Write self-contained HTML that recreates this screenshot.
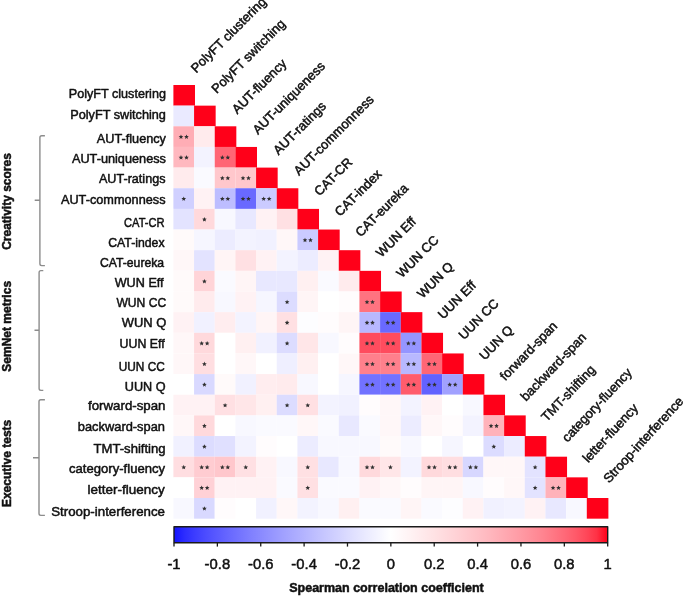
<!DOCTYPE html><html><head><meta charset="utf-8"><style>html,body{margin:0;padding:0;background:#fff}svg{display:block;filter:blur(0.35px)}</style></head><body>
<svg width="685" height="596" viewBox="0 0 685 596" font-family="'Liberation Sans', sans-serif" stroke-linejoin="round">
<style>text{stroke:#111;stroke-width:0.5px}</style>
<defs><linearGradient id="cb" x1="0" x2="1" y1="0" y2="0">
<stop offset="0.0000" stop-color="#1414ff"/>
<stop offset="0.0250" stop-color="#2d2dff"/>
<stop offset="0.0500" stop-color="#3e3eff"/>
<stop offset="0.0750" stop-color="#4d4dff"/>
<stop offset="0.1000" stop-color="#5a5aff"/>
<stop offset="0.1250" stop-color="#6767ff"/>
<stop offset="0.1500" stop-color="#7373ff"/>
<stop offset="0.1750" stop-color="#7f7fff"/>
<stop offset="0.2000" stop-color="#8a8aff"/>
<stop offset="0.2250" stop-color="#9595ff"/>
<stop offset="0.2500" stop-color="#a0a0ff"/>
<stop offset="0.2750" stop-color="#aaaaff"/>
<stop offset="0.3000" stop-color="#b4b4ff"/>
<stop offset="0.3250" stop-color="#bebeff"/>
<stop offset="0.3500" stop-color="#c8c8ff"/>
<stop offset="0.3750" stop-color="#d1d1ff"/>
<stop offset="0.4000" stop-color="#dbdbff"/>
<stop offset="0.4250" stop-color="#e4e4ff"/>
<stop offset="0.4500" stop-color="#ededff"/>
<stop offset="0.4750" stop-color="#f6f6ff"/>
<stop offset="0.5000" stop-color="#ffffff"/>
<stop offset="0.5250" stop-color="#fff8f9"/>
<stop offset="0.5500" stop-color="#fff1f2"/>
<stop offset="0.5750" stop-color="#ffe9eb"/>
<stop offset="0.6000" stop-color="#ffe2e4"/>
<stop offset="0.6250" stop-color="#ffdadd"/>
<stop offset="0.6500" stop-color="#ffd2d6"/>
<stop offset="0.6750" stop-color="#ffc9ce"/>
<stop offset="0.7000" stop-color="#ffc1c7"/>
<stop offset="0.7250" stop-color="#ffb8bf"/>
<stop offset="0.7500" stop-color="#ffaeb6"/>
<stop offset="0.7750" stop-color="#ffa4ad"/>
<stop offset="0.8000" stop-color="#ff9aa4"/>
<stop offset="0.8250" stop-color="#ff8f9a"/>
<stop offset="0.8500" stop-color="#ff8490"/>
<stop offset="0.8750" stop-color="#ff7784"/>
<stop offset="0.9000" stop-color="#ff6978"/>
<stop offset="0.9250" stop-color="#ff5a6a"/>
<stop offset="0.9500" stop-color="#ff485a"/>
<stop offset="0.9750" stop-color="#ff3145"/>
<stop offset="1.0000" stop-color="#ff0019"/>
</linearGradient>
</defs>
<rect x="173.40" y="85.00" width="21.59" height="20.67" fill="#ff0019"/>
<rect x="173.40" y="105.65" width="20.69" height="20.67" fill="#eaeaff"/>
<rect x="194.07" y="105.65" width="21.59" height="20.67" fill="#ff0019"/>
<rect x="173.40" y="126.30" width="20.69" height="20.67" fill="#ffadb5"/>
<rect x="194.07" y="126.30" width="20.69" height="20.67" fill="#ffebed"/>
<rect x="214.74" y="126.30" width="21.59" height="20.67" fill="#ff0019"/>
<rect x="173.40" y="146.95" width="20.69" height="20.67" fill="#ffb8bf"/>
<rect x="194.07" y="146.95" width="20.69" height="20.67" fill="#f3f3ff"/>
<rect x="214.74" y="146.95" width="20.69" height="20.67" fill="#ff6675"/>
<rect x="235.41" y="146.95" width="21.59" height="20.67" fill="#ff0019"/>
<rect x="173.40" y="167.60" width="20.69" height="20.67" fill="#ffebed"/>
<rect x="194.07" y="167.60" width="20.69" height="20.67" fill="#fafaff"/>
<rect x="214.74" y="167.60" width="20.69" height="20.67" fill="#ffc7cc"/>
<rect x="235.41" y="167.60" width="20.69" height="20.67" fill="#ffc7cc"/>
<rect x="256.08" y="167.60" width="21.59" height="20.67" fill="#ff0019"/>
<rect x="173.40" y="188.25" width="20.69" height="20.67" fill="#d0d0ff"/>
<rect x="194.07" y="188.25" width="20.69" height="20.67" fill="#fff2f4"/>
<rect x="214.74" y="188.25" width="20.69" height="20.67" fill="#bdbdff"/>
<rect x="235.41" y="188.25" width="20.69" height="20.67" fill="#6969ff"/>
<rect x="256.08" y="188.25" width="20.69" height="20.67" fill="#cbcbff"/>
<rect x="276.75" y="188.25" width="21.59" height="20.67" fill="#ff0019"/>
<rect x="173.40" y="208.90" width="20.69" height="20.67" fill="#e3e3ff"/>
<rect x="194.07" y="208.90" width="20.69" height="20.67" fill="#ffd9dc"/>
<rect x="214.74" y="208.90" width="20.69" height="20.67" fill="#f8f8ff"/>
<rect x="235.41" y="208.90" width="20.69" height="20.67" fill="#e8e8ff"/>
<rect x="256.08" y="208.90" width="20.69" height="20.67" fill="#fff2f4"/>
<rect x="276.75" y="208.90" width="20.69" height="20.67" fill="#ffe0e3"/>
<rect x="297.42" y="208.90" width="21.59" height="20.67" fill="#ff0019"/>
<rect x="173.40" y="229.55" width="20.69" height="20.67" fill="#fffafa"/>
<rect x="194.07" y="229.55" width="20.69" height="20.67" fill="#f6f6ff"/>
<rect x="214.74" y="229.55" width="20.69" height="20.67" fill="#ececff"/>
<rect x="235.41" y="229.55" width="20.69" height="20.67" fill="#f3f3ff"/>
<rect x="256.08" y="229.55" width="20.69" height="20.67" fill="#f1f1ff"/>
<rect x="276.75" y="229.55" width="20.69" height="20.67" fill="#fff7f8"/>
<rect x="297.42" y="229.55" width="20.69" height="20.67" fill="#cbcbff"/>
<rect x="318.09" y="229.55" width="21.59" height="20.67" fill="#ff0019"/>
<rect x="173.40" y="250.20" width="20.69" height="20.67" fill="#fff7f8"/>
<rect x="194.07" y="250.20" width="20.69" height="20.67" fill="#e3e3ff"/>
<rect x="214.74" y="250.20" width="20.69" height="20.67" fill="#fff5f6"/>
<rect x="235.41" y="250.20" width="20.69" height="20.67" fill="#ffe0e3"/>
<rect x="256.08" y="250.20" width="20.69" height="20.67" fill="#fff2f4"/>
<rect x="276.75" y="250.20" width="20.69" height="20.67" fill="#f3f3ff"/>
<rect x="297.42" y="250.20" width="20.69" height="20.67" fill="#ececff"/>
<rect x="318.09" y="250.20" width="20.69" height="20.67" fill="#fff2f4"/>
<rect x="338.76" y="250.20" width="21.59" height="20.67" fill="#ff0019"/>
<rect x="173.40" y="270.85" width="20.69" height="20.67" fill="#fffafa"/>
<rect x="194.07" y="270.85" width="20.69" height="20.67" fill="#ffd4d8"/>
<rect x="214.74" y="270.85" width="20.69" height="20.67" fill="#fafaff"/>
<rect x="235.41" y="270.85" width="20.69" height="20.67" fill="#fff5f6"/>
<rect x="256.08" y="270.85" width="20.69" height="20.67" fill="#e8e8ff"/>
<rect x="276.75" y="270.85" width="20.69" height="20.67" fill="#e8e8ff"/>
<rect x="297.42" y="270.85" width="20.69" height="20.67" fill="#fff0f1"/>
<rect x="318.09" y="270.85" width="20.69" height="20.67" fill="#fafaff"/>
<rect x="338.76" y="270.85" width="20.69" height="20.67" fill="#ffebed"/>
<rect x="359.43" y="270.85" width="21.59" height="20.67" fill="#ff0019"/>
<rect x="173.40" y="291.50" width="20.69" height="20.67" fill="#fffafa"/>
<rect x="194.07" y="291.50" width="20.69" height="20.67" fill="#ffebed"/>
<rect x="214.74" y="291.50" width="20.69" height="20.67" fill="#f8f8ff"/>
<rect x="235.41" y="291.50" width="20.69" height="20.67" fill="#fff2f4"/>
<rect x="256.08" y="291.50" width="20.69" height="20.67" fill="#f6f6ff"/>
<rect x="276.75" y="291.50" width="20.69" height="20.67" fill="#dcdcff"/>
<rect x="297.42" y="291.50" width="20.69" height="20.67" fill="#fff5f6"/>
<rect x="318.09" y="291.50" width="20.69" height="20.67" fill="#ffffff"/>
<rect x="338.76" y="291.50" width="20.69" height="20.67" fill="#fffcfd"/>
<rect x="359.43" y="291.50" width="20.69" height="20.67" fill="#ff7380"/>
<rect x="380.10" y="291.50" width="21.59" height="20.67" fill="#ff0019"/>
<rect x="173.40" y="312.15" width="20.69" height="20.67" fill="#fff2f4"/>
<rect x="194.07" y="312.15" width="20.69" height="20.67" fill="#f1f1ff"/>
<rect x="214.74" y="312.15" width="20.69" height="20.67" fill="#ffedef"/>
<rect x="235.41" y="312.15" width="20.69" height="20.67" fill="#f3f3ff"/>
<rect x="256.08" y="312.15" width="20.69" height="20.67" fill="#fff5f6"/>
<rect x="276.75" y="312.15" width="20.69" height="20.67" fill="#ffe0e3"/>
<rect x="297.42" y="312.15" width="20.69" height="20.67" fill="#fdfdff"/>
<rect x="318.09" y="312.15" width="20.69" height="20.67" fill="#fffcfd"/>
<rect x="338.76" y="312.15" width="20.69" height="20.67" fill="#fff5f6"/>
<rect x="359.43" y="312.15" width="20.69" height="20.67" fill="#b8b8ff"/>
<rect x="380.10" y="312.15" width="20.69" height="20.67" fill="#6969ff"/>
<rect x="400.77" y="312.15" width="21.59" height="20.67" fill="#ff0019"/>
<rect x="173.40" y="332.80" width="20.69" height="20.67" fill="#fff7f8"/>
<rect x="194.07" y="332.80" width="20.69" height="20.67" fill="#ffd9dc"/>
<rect x="214.74" y="332.80" width="20.69" height="20.67" fill="#ffffff"/>
<rect x="235.41" y="332.80" width="20.69" height="20.67" fill="#fff0f1"/>
<rect x="256.08" y="332.80" width="20.69" height="20.67" fill="#f1f1ff"/>
<rect x="276.75" y="332.80" width="20.69" height="20.67" fill="#dcdcff"/>
<rect x="297.42" y="332.80" width="20.69" height="20.67" fill="#ffe6e8"/>
<rect x="318.09" y="332.80" width="20.69" height="20.67" fill="#f8f8ff"/>
<rect x="338.76" y="332.80" width="20.69" height="20.67" fill="#fffcfd"/>
<rect x="359.43" y="332.80" width="20.69" height="20.67" fill="#ff4c5e"/>
<rect x="380.10" y="332.80" width="20.69" height="20.67" fill="#ff4c5e"/>
<rect x="400.77" y="332.80" width="20.69" height="20.67" fill="#9595ff"/>
<rect x="421.44" y="332.80" width="21.59" height="20.67" fill="#ff0019"/>
<rect x="173.40" y="353.45" width="20.69" height="20.67" fill="#fff7f8"/>
<rect x="194.07" y="353.45" width="20.69" height="20.67" fill="#ffdee1"/>
<rect x="214.74" y="353.45" width="20.69" height="20.67" fill="#ffffff"/>
<rect x="235.41" y="353.45" width="20.69" height="20.67" fill="#fff7f8"/>
<rect x="256.08" y="353.45" width="20.69" height="20.67" fill="#ffffff"/>
<rect x="276.75" y="353.45" width="20.69" height="20.67" fill="#efefff"/>
<rect x="297.42" y="353.45" width="20.69" height="20.67" fill="#fff0f1"/>
<rect x="318.09" y="353.45" width="20.69" height="20.67" fill="#ffffff"/>
<rect x="338.76" y="353.45" width="20.69" height="20.67" fill="#fff7f8"/>
<rect x="359.43" y="353.45" width="20.69" height="20.67" fill="#ff808c"/>
<rect x="380.10" y="353.45" width="20.69" height="20.67" fill="#ff808c"/>
<rect x="400.77" y="353.45" width="20.69" height="20.67" fill="#b8b8ff"/>
<rect x="421.44" y="353.45" width="20.69" height="20.67" fill="#ff6675"/>
<rect x="442.11" y="353.45" width="21.59" height="20.67" fill="#ff0019"/>
<rect x="173.40" y="374.10" width="20.69" height="20.67" fill="#ffffff"/>
<rect x="194.07" y="374.10" width="20.69" height="20.67" fill="#d9d9ff"/>
<rect x="214.74" y="374.10" width="20.69" height="20.67" fill="#fffafa"/>
<rect x="235.41" y="374.10" width="20.69" height="20.67" fill="#f1f1ff"/>
<rect x="256.08" y="374.10" width="20.69" height="20.67" fill="#ffedef"/>
<rect x="276.75" y="374.10" width="20.69" height="20.67" fill="#ffebed"/>
<rect x="297.42" y="374.10" width="20.69" height="20.67" fill="#f8f8ff"/>
<rect x="318.09" y="374.10" width="20.69" height="20.67" fill="#ffffff"/>
<rect x="338.76" y="374.10" width="20.69" height="20.67" fill="#f6f6ff"/>
<rect x="359.43" y="374.10" width="20.69" height="20.67" fill="#7272ff"/>
<rect x="380.10" y="374.10" width="20.69" height="20.67" fill="#7272ff"/>
<rect x="400.77" y="374.10" width="20.69" height="20.67" fill="#ff5c6c"/>
<rect x="421.44" y="374.10" width="20.69" height="20.67" fill="#6262ff"/>
<rect x="442.11" y="374.10" width="20.69" height="20.67" fill="#a1a1ff"/>
<rect x="462.78" y="374.10" width="21.59" height="20.67" fill="#ff0019"/>
<rect x="173.40" y="394.75" width="20.69" height="20.67" fill="#fff2f4"/>
<rect x="194.07" y="394.75" width="20.69" height="20.67" fill="#fff2f4"/>
<rect x="214.74" y="394.75" width="20.69" height="20.67" fill="#ffe0e3"/>
<rect x="235.41" y="394.75" width="20.69" height="20.67" fill="#ffe6e8"/>
<rect x="256.08" y="394.75" width="20.69" height="20.67" fill="#fff0f1"/>
<rect x="276.75" y="394.75" width="20.69" height="20.67" fill="#dcdcff"/>
<rect x="297.42" y="394.75" width="20.69" height="20.67" fill="#ffe0e3"/>
<rect x="318.09" y="394.75" width="20.69" height="20.67" fill="#f3f3ff"/>
<rect x="338.76" y="394.75" width="20.69" height="20.67" fill="#f1f1ff"/>
<rect x="359.43" y="394.75" width="20.69" height="20.67" fill="#fffcfd"/>
<rect x="380.10" y="394.75" width="20.69" height="20.67" fill="#fff7f8"/>
<rect x="400.77" y="394.75" width="20.69" height="20.67" fill="#f3f3ff"/>
<rect x="421.44" y="394.75" width="20.69" height="20.67" fill="#fff2f4"/>
<rect x="442.11" y="394.75" width="20.69" height="20.67" fill="#ffffff"/>
<rect x="462.78" y="394.75" width="20.69" height="20.67" fill="#f8f8ff"/>
<rect x="483.45" y="394.75" width="21.59" height="20.67" fill="#ff0019"/>
<rect x="173.40" y="415.40" width="20.69" height="20.67" fill="#fff7f8"/>
<rect x="194.07" y="415.40" width="20.69" height="20.67" fill="#ffd9dc"/>
<rect x="214.74" y="415.40" width="20.69" height="20.67" fill="#ffffff"/>
<rect x="235.41" y="415.40" width="20.69" height="20.67" fill="#f8f8ff"/>
<rect x="256.08" y="415.40" width="20.69" height="20.67" fill="#fafaff"/>
<rect x="276.75" y="415.40" width="20.69" height="20.67" fill="#fafaff"/>
<rect x="297.42" y="415.40" width="20.69" height="20.67" fill="#fff7f8"/>
<rect x="318.09" y="415.40" width="20.69" height="20.67" fill="#fafaff"/>
<rect x="338.76" y="415.40" width="20.69" height="20.67" fill="#e8e8ff"/>
<rect x="359.43" y="415.40" width="20.69" height="20.67" fill="#fafaff"/>
<rect x="380.10" y="415.40" width="20.69" height="20.67" fill="#fff7f8"/>
<rect x="400.77" y="415.40" width="20.69" height="20.67" fill="#ececff"/>
<rect x="421.44" y="415.40" width="20.69" height="20.67" fill="#fff7f8"/>
<rect x="442.11" y="415.40" width="20.69" height="20.67" fill="#fffcfd"/>
<rect x="462.78" y="415.40" width="20.69" height="20.67" fill="#f3f3ff"/>
<rect x="483.45" y="415.40" width="20.69" height="20.67" fill="#ffb2ba"/>
<rect x="504.12" y="415.40" width="21.59" height="20.67" fill="#ff0019"/>
<rect x="173.40" y="436.05" width="20.69" height="20.67" fill="#f1f1ff"/>
<rect x="194.07" y="436.05" width="20.69" height="20.67" fill="#dcdcff"/>
<rect x="214.74" y="436.05" width="20.69" height="20.67" fill="#e0e0ff"/>
<rect x="235.41" y="436.05" width="20.69" height="20.67" fill="#f3f3ff"/>
<rect x="256.08" y="436.05" width="20.69" height="20.67" fill="#fffcfd"/>
<rect x="276.75" y="436.05" width="20.69" height="20.67" fill="#ffffff"/>
<rect x="297.42" y="436.05" width="20.69" height="20.67" fill="#ececff"/>
<rect x="318.09" y="436.05" width="20.69" height="20.67" fill="#f8f8ff"/>
<rect x="338.76" y="436.05" width="20.69" height="20.67" fill="#f8f8ff"/>
<rect x="359.43" y="436.05" width="20.69" height="20.67" fill="#f8f8ff"/>
<rect x="380.10" y="436.05" width="20.69" height="20.67" fill="#fffafa"/>
<rect x="400.77" y="436.05" width="20.69" height="20.67" fill="#f8f8ff"/>
<rect x="421.44" y="436.05" width="20.69" height="20.67" fill="#ffffff"/>
<rect x="442.11" y="436.05" width="20.69" height="20.67" fill="#f6f6ff"/>
<rect x="462.78" y="436.05" width="20.69" height="20.67" fill="#ffffff"/>
<rect x="483.45" y="436.05" width="20.69" height="20.67" fill="#dcdcff"/>
<rect x="504.12" y="436.05" width="20.69" height="20.67" fill="#ececff"/>
<rect x="524.79" y="436.05" width="21.59" height="20.67" fill="#ff0019"/>
<rect x="173.40" y="456.70" width="20.69" height="20.67" fill="#ffdee1"/>
<rect x="194.07" y="456.70" width="20.69" height="20.67" fill="#ffccd1"/>
<rect x="214.74" y="456.70" width="20.69" height="20.67" fill="#ffc7cc"/>
<rect x="235.41" y="456.70" width="20.69" height="20.67" fill="#ffe0e3"/>
<rect x="256.08" y="456.70" width="20.69" height="20.67" fill="#fff2f4"/>
<rect x="276.75" y="456.70" width="20.69" height="20.67" fill="#f8f8ff"/>
<rect x="297.42" y="456.70" width="20.69" height="20.67" fill="#ffe0e3"/>
<rect x="318.09" y="456.70" width="20.69" height="20.67" fill="#e8e8ff"/>
<rect x="338.76" y="456.70" width="20.69" height="20.67" fill="#f8f8ff"/>
<rect x="359.43" y="456.70" width="20.69" height="20.67" fill="#ffd9dc"/>
<rect x="380.10" y="456.70" width="20.69" height="20.67" fill="#ffe6e8"/>
<rect x="400.77" y="456.70" width="20.69" height="20.67" fill="#f3f3ff"/>
<rect x="421.44" y="456.70" width="20.69" height="20.67" fill="#ffd9dc"/>
<rect x="442.11" y="456.70" width="20.69" height="20.67" fill="#ffdee1"/>
<rect x="462.78" y="456.70" width="20.69" height="20.67" fill="#d7d7ff"/>
<rect x="483.45" y="456.70" width="20.69" height="20.67" fill="#fff7f8"/>
<rect x="504.12" y="456.70" width="20.69" height="20.67" fill="#fff7f8"/>
<rect x="524.79" y="456.70" width="20.69" height="20.67" fill="#e3e3ff"/>
<rect x="545.46" y="456.70" width="21.59" height="20.67" fill="#ff0019"/>
<rect x="173.40" y="477.35" width="20.69" height="20.67" fill="#ffffff"/>
<rect x="194.07" y="477.35" width="20.69" height="20.67" fill="#ffd1d6"/>
<rect x="214.74" y="477.35" width="20.69" height="20.67" fill="#fff2f4"/>
<rect x="235.41" y="477.35" width="20.69" height="20.67" fill="#fff2f4"/>
<rect x="256.08" y="477.35" width="20.69" height="20.67" fill="#fff2f4"/>
<rect x="276.75" y="477.35" width="20.69" height="20.67" fill="#fafaff"/>
<rect x="297.42" y="477.35" width="20.69" height="20.67" fill="#ffe0e3"/>
<rect x="318.09" y="477.35" width="20.69" height="20.67" fill="#fafaff"/>
<rect x="338.76" y="477.35" width="20.69" height="20.67" fill="#fafaff"/>
<rect x="359.43" y="477.35" width="20.69" height="20.67" fill="#fff2f4"/>
<rect x="380.10" y="477.35" width="20.69" height="20.67" fill="#fff7f8"/>
<rect x="400.77" y="477.35" width="20.69" height="20.67" fill="#fffcfd"/>
<rect x="421.44" y="477.35" width="20.69" height="20.67" fill="#fff5f6"/>
<rect x="442.11" y="477.35" width="20.69" height="20.67" fill="#fff5f6"/>
<rect x="462.78" y="477.35" width="20.69" height="20.67" fill="#f8f8ff"/>
<rect x="483.45" y="477.35" width="20.69" height="20.67" fill="#fffcfd"/>
<rect x="504.12" y="477.35" width="20.69" height="20.67" fill="#fff7f8"/>
<rect x="524.79" y="477.35" width="20.69" height="20.67" fill="#e3e3ff"/>
<rect x="545.46" y="477.35" width="20.69" height="20.67" fill="#ffb2ba"/>
<rect x="566.13" y="477.35" width="21.59" height="20.67" fill="#ff0019"/>
<rect x="173.40" y="498.00" width="20.69" height="20.67" fill="#f8f8ff"/>
<rect x="194.07" y="498.00" width="20.69" height="20.67" fill="#d9d9ff"/>
<rect x="214.74" y="498.00" width="20.69" height="20.67" fill="#fffcfd"/>
<rect x="235.41" y="498.00" width="20.69" height="20.67" fill="#ffffff"/>
<rect x="256.08" y="498.00" width="20.69" height="20.67" fill="#f1f1ff"/>
<rect x="276.75" y="498.00" width="20.69" height="20.67" fill="#fff7f8"/>
<rect x="297.42" y="498.00" width="20.69" height="20.67" fill="#f3f3ff"/>
<rect x="318.09" y="498.00" width="20.69" height="20.67" fill="#f8f8ff"/>
<rect x="338.76" y="498.00" width="20.69" height="20.67" fill="#fff0f1"/>
<rect x="359.43" y="498.00" width="20.69" height="20.67" fill="#fafaff"/>
<rect x="380.10" y="498.00" width="20.69" height="20.67" fill="#fafaff"/>
<rect x="400.77" y="498.00" width="20.69" height="20.67" fill="#fff5f6"/>
<rect x="421.44" y="498.00" width="20.69" height="20.67" fill="#fafaff"/>
<rect x="442.11" y="498.00" width="20.69" height="20.67" fill="#fdfdff"/>
<rect x="462.78" y="498.00" width="20.69" height="20.67" fill="#fff2f4"/>
<rect x="483.45" y="498.00" width="20.69" height="20.67" fill="#f1f1ff"/>
<rect x="504.12" y="498.00" width="20.69" height="20.67" fill="#f3f3ff"/>
<rect x="524.79" y="498.00" width="20.69" height="20.67" fill="#fff2f4"/>
<rect x="545.46" y="498.00" width="20.69" height="20.67" fill="#e8e8ff"/>
<rect x="566.13" y="498.00" width="20.69" height="20.67" fill="#f8f8ff"/>
<rect x="586.80" y="498.00" width="21.59" height="20.67" fill="#ff0019"/>
<path d="M0.00,-2.15 L0.66,-0.61 L2.33,-0.46 L1.07,0.65 L1.44,2.28 L0.00,1.42 L-1.44,2.28 L-1.07,0.65 L-2.33,-0.46 L-0.66,-0.61 Z" fill="#303030" transform="translate(180.99,136.62)"/><path d="M0.00,-2.15 L0.66,-0.61 L2.33,-0.46 L1.07,0.65 L1.44,2.28 L0.00,1.42 L-1.44,2.28 L-1.07,0.65 L-2.33,-0.46 L-0.66,-0.61 Z" fill="#303030" transform="translate(186.49,136.62)"/>
<path d="M0.00,-2.15 L0.66,-0.61 L2.33,-0.46 L1.07,0.65 L1.44,2.28 L0.00,1.42 L-1.44,2.28 L-1.07,0.65 L-2.33,-0.46 L-0.66,-0.61 Z" fill="#303030" transform="translate(180.99,157.27)"/><path d="M0.00,-2.15 L0.66,-0.61 L2.33,-0.46 L1.07,0.65 L1.44,2.28 L0.00,1.42 L-1.44,2.28 L-1.07,0.65 L-2.33,-0.46 L-0.66,-0.61 Z" fill="#303030" transform="translate(186.49,157.27)"/>
<path d="M0.00,-2.15 L0.66,-0.61 L2.33,-0.46 L1.07,0.65 L1.44,2.28 L0.00,1.42 L-1.44,2.28 L-1.07,0.65 L-2.33,-0.46 L-0.66,-0.61 Z" fill="#303030" transform="translate(222.33,157.27)"/><path d="M0.00,-2.15 L0.66,-0.61 L2.33,-0.46 L1.07,0.65 L1.44,2.28 L0.00,1.42 L-1.44,2.28 L-1.07,0.65 L-2.33,-0.46 L-0.66,-0.61 Z" fill="#303030" transform="translate(227.83,157.27)"/>
<path d="M0.00,-2.15 L0.66,-0.61 L2.33,-0.46 L1.07,0.65 L1.44,2.28 L0.00,1.42 L-1.44,2.28 L-1.07,0.65 L-2.33,-0.46 L-0.66,-0.61 Z" fill="#303030" transform="translate(222.33,177.93)"/><path d="M0.00,-2.15 L0.66,-0.61 L2.33,-0.46 L1.07,0.65 L1.44,2.28 L0.00,1.42 L-1.44,2.28 L-1.07,0.65 L-2.33,-0.46 L-0.66,-0.61 Z" fill="#303030" transform="translate(227.83,177.93)"/>
<path d="M0.00,-2.15 L0.66,-0.61 L2.33,-0.46 L1.07,0.65 L1.44,2.28 L0.00,1.42 L-1.44,2.28 L-1.07,0.65 L-2.33,-0.46 L-0.66,-0.61 Z" fill="#303030" transform="translate(243.00,177.93)"/><path d="M0.00,-2.15 L0.66,-0.61 L2.33,-0.46 L1.07,0.65 L1.44,2.28 L0.00,1.42 L-1.44,2.28 L-1.07,0.65 L-2.33,-0.46 L-0.66,-0.61 Z" fill="#303030" transform="translate(248.50,177.93)"/>
<path d="M0.00,-2.15 L0.66,-0.61 L2.33,-0.46 L1.07,0.65 L1.44,2.28 L0.00,1.42 L-1.44,2.28 L-1.07,0.65 L-2.33,-0.46 L-0.66,-0.61 Z" fill="#303030" transform="translate(183.74,198.57)"/>
<path d="M0.00,-2.15 L0.66,-0.61 L2.33,-0.46 L1.07,0.65 L1.44,2.28 L0.00,1.42 L-1.44,2.28 L-1.07,0.65 L-2.33,-0.46 L-0.66,-0.61 Z" fill="#303030" transform="translate(222.33,198.57)"/><path d="M0.00,-2.15 L0.66,-0.61 L2.33,-0.46 L1.07,0.65 L1.44,2.28 L0.00,1.42 L-1.44,2.28 L-1.07,0.65 L-2.33,-0.46 L-0.66,-0.61 Z" fill="#303030" transform="translate(227.83,198.57)"/>
<path d="M0.00,-2.15 L0.66,-0.61 L2.33,-0.46 L1.07,0.65 L1.44,2.28 L0.00,1.42 L-1.44,2.28 L-1.07,0.65 L-2.33,-0.46 L-0.66,-0.61 Z" fill="#303030" transform="translate(243.00,198.57)"/><path d="M0.00,-2.15 L0.66,-0.61 L2.33,-0.46 L1.07,0.65 L1.44,2.28 L0.00,1.42 L-1.44,2.28 L-1.07,0.65 L-2.33,-0.46 L-0.66,-0.61 Z" fill="#303030" transform="translate(248.50,198.57)"/>
<path d="M0.00,-2.15 L0.66,-0.61 L2.33,-0.46 L1.07,0.65 L1.44,2.28 L0.00,1.42 L-1.44,2.28 L-1.07,0.65 L-2.33,-0.46 L-0.66,-0.61 Z" fill="#303030" transform="translate(263.67,198.57)"/><path d="M0.00,-2.15 L0.66,-0.61 L2.33,-0.46 L1.07,0.65 L1.44,2.28 L0.00,1.42 L-1.44,2.28 L-1.07,0.65 L-2.33,-0.46 L-0.66,-0.61 Z" fill="#303030" transform="translate(269.17,198.57)"/>
<path d="M0.00,-2.15 L0.66,-0.61 L2.33,-0.46 L1.07,0.65 L1.44,2.28 L0.00,1.42 L-1.44,2.28 L-1.07,0.65 L-2.33,-0.46 L-0.66,-0.61 Z" fill="#303030" transform="translate(204.41,219.22)"/>
<path d="M0.00,-2.15 L0.66,-0.61 L2.33,-0.46 L1.07,0.65 L1.44,2.28 L0.00,1.42 L-1.44,2.28 L-1.07,0.65 L-2.33,-0.46 L-0.66,-0.61 Z" fill="#303030" transform="translate(305.00,239.88)"/><path d="M0.00,-2.15 L0.66,-0.61 L2.33,-0.46 L1.07,0.65 L1.44,2.28 L0.00,1.42 L-1.44,2.28 L-1.07,0.65 L-2.33,-0.46 L-0.66,-0.61 Z" fill="#303030" transform="translate(310.50,239.88)"/>
<path d="M0.00,-2.15 L0.66,-0.61 L2.33,-0.46 L1.07,0.65 L1.44,2.28 L0.00,1.42 L-1.44,2.28 L-1.07,0.65 L-2.33,-0.46 L-0.66,-0.61 Z" fill="#303030" transform="translate(204.41,281.17)"/>
<path d="M0.00,-2.15 L0.66,-0.61 L2.33,-0.46 L1.07,0.65 L1.44,2.28 L0.00,1.42 L-1.44,2.28 L-1.07,0.65 L-2.33,-0.46 L-0.66,-0.61 Z" fill="#303030" transform="translate(287.09,301.82)"/>
<path d="M0.00,-2.15 L0.66,-0.61 L2.33,-0.46 L1.07,0.65 L1.44,2.28 L0.00,1.42 L-1.44,2.28 L-1.07,0.65 L-2.33,-0.46 L-0.66,-0.61 Z" fill="#303030" transform="translate(367.01,301.82)"/><path d="M0.00,-2.15 L0.66,-0.61 L2.33,-0.46 L1.07,0.65 L1.44,2.28 L0.00,1.42 L-1.44,2.28 L-1.07,0.65 L-2.33,-0.46 L-0.66,-0.61 Z" fill="#303030" transform="translate(372.51,301.82)"/>
<path d="M0.00,-2.15 L0.66,-0.61 L2.33,-0.46 L1.07,0.65 L1.44,2.28 L0.00,1.42 L-1.44,2.28 L-1.07,0.65 L-2.33,-0.46 L-0.66,-0.61 Z" fill="#303030" transform="translate(287.09,322.48)"/>
<path d="M0.00,-2.15 L0.66,-0.61 L2.33,-0.46 L1.07,0.65 L1.44,2.28 L0.00,1.42 L-1.44,2.28 L-1.07,0.65 L-2.33,-0.46 L-0.66,-0.61 Z" fill="#303030" transform="translate(367.01,322.48)"/><path d="M0.00,-2.15 L0.66,-0.61 L2.33,-0.46 L1.07,0.65 L1.44,2.28 L0.00,1.42 L-1.44,2.28 L-1.07,0.65 L-2.33,-0.46 L-0.66,-0.61 Z" fill="#303030" transform="translate(372.51,322.48)"/>
<path d="M0.00,-2.15 L0.66,-0.61 L2.33,-0.46 L1.07,0.65 L1.44,2.28 L0.00,1.42 L-1.44,2.28 L-1.07,0.65 L-2.33,-0.46 L-0.66,-0.61 Z" fill="#303030" transform="translate(387.69,322.48)"/><path d="M0.00,-2.15 L0.66,-0.61 L2.33,-0.46 L1.07,0.65 L1.44,2.28 L0.00,1.42 L-1.44,2.28 L-1.07,0.65 L-2.33,-0.46 L-0.66,-0.61 Z" fill="#303030" transform="translate(393.19,322.48)"/>
<path d="M0.00,-2.15 L0.66,-0.61 L2.33,-0.46 L1.07,0.65 L1.44,2.28 L0.00,1.42 L-1.44,2.28 L-1.07,0.65 L-2.33,-0.46 L-0.66,-0.61 Z" fill="#303030" transform="translate(201.66,343.12)"/><path d="M0.00,-2.15 L0.66,-0.61 L2.33,-0.46 L1.07,0.65 L1.44,2.28 L0.00,1.42 L-1.44,2.28 L-1.07,0.65 L-2.33,-0.46 L-0.66,-0.61 Z" fill="#303030" transform="translate(207.16,343.12)"/>
<path d="M0.00,-2.15 L0.66,-0.61 L2.33,-0.46 L1.07,0.65 L1.44,2.28 L0.00,1.42 L-1.44,2.28 L-1.07,0.65 L-2.33,-0.46 L-0.66,-0.61 Z" fill="#303030" transform="translate(287.09,343.12)"/>
<path d="M0.00,-2.15 L0.66,-0.61 L2.33,-0.46 L1.07,0.65 L1.44,2.28 L0.00,1.42 L-1.44,2.28 L-1.07,0.65 L-2.33,-0.46 L-0.66,-0.61 Z" fill="#303030" transform="translate(367.01,343.12)"/><path d="M0.00,-2.15 L0.66,-0.61 L2.33,-0.46 L1.07,0.65 L1.44,2.28 L0.00,1.42 L-1.44,2.28 L-1.07,0.65 L-2.33,-0.46 L-0.66,-0.61 Z" fill="#303030" transform="translate(372.51,343.12)"/>
<path d="M0.00,-2.15 L0.66,-0.61 L2.33,-0.46 L1.07,0.65 L1.44,2.28 L0.00,1.42 L-1.44,2.28 L-1.07,0.65 L-2.33,-0.46 L-0.66,-0.61 Z" fill="#303030" transform="translate(387.69,343.12)"/><path d="M0.00,-2.15 L0.66,-0.61 L2.33,-0.46 L1.07,0.65 L1.44,2.28 L0.00,1.42 L-1.44,2.28 L-1.07,0.65 L-2.33,-0.46 L-0.66,-0.61 Z" fill="#303030" transform="translate(393.19,343.12)"/>
<path d="M0.00,-2.15 L0.66,-0.61 L2.33,-0.46 L1.07,0.65 L1.44,2.28 L0.00,1.42 L-1.44,2.28 L-1.07,0.65 L-2.33,-0.46 L-0.66,-0.61 Z" fill="#303030" transform="translate(408.36,343.12)"/><path d="M0.00,-2.15 L0.66,-0.61 L2.33,-0.46 L1.07,0.65 L1.44,2.28 L0.00,1.42 L-1.44,2.28 L-1.07,0.65 L-2.33,-0.46 L-0.66,-0.61 Z" fill="#303030" transform="translate(413.86,343.12)"/>
<path d="M0.00,-2.15 L0.66,-0.61 L2.33,-0.46 L1.07,0.65 L1.44,2.28 L0.00,1.42 L-1.44,2.28 L-1.07,0.65 L-2.33,-0.46 L-0.66,-0.61 Z" fill="#303030" transform="translate(204.41,363.77)"/>
<path d="M0.00,-2.15 L0.66,-0.61 L2.33,-0.46 L1.07,0.65 L1.44,2.28 L0.00,1.42 L-1.44,2.28 L-1.07,0.65 L-2.33,-0.46 L-0.66,-0.61 Z" fill="#303030" transform="translate(367.01,363.77)"/><path d="M0.00,-2.15 L0.66,-0.61 L2.33,-0.46 L1.07,0.65 L1.44,2.28 L0.00,1.42 L-1.44,2.28 L-1.07,0.65 L-2.33,-0.46 L-0.66,-0.61 Z" fill="#303030" transform="translate(372.51,363.77)"/>
<path d="M0.00,-2.15 L0.66,-0.61 L2.33,-0.46 L1.07,0.65 L1.44,2.28 L0.00,1.42 L-1.44,2.28 L-1.07,0.65 L-2.33,-0.46 L-0.66,-0.61 Z" fill="#303030" transform="translate(387.69,363.77)"/><path d="M0.00,-2.15 L0.66,-0.61 L2.33,-0.46 L1.07,0.65 L1.44,2.28 L0.00,1.42 L-1.44,2.28 L-1.07,0.65 L-2.33,-0.46 L-0.66,-0.61 Z" fill="#303030" transform="translate(393.19,363.77)"/>
<path d="M0.00,-2.15 L0.66,-0.61 L2.33,-0.46 L1.07,0.65 L1.44,2.28 L0.00,1.42 L-1.44,2.28 L-1.07,0.65 L-2.33,-0.46 L-0.66,-0.61 Z" fill="#303030" transform="translate(408.36,363.77)"/><path d="M0.00,-2.15 L0.66,-0.61 L2.33,-0.46 L1.07,0.65 L1.44,2.28 L0.00,1.42 L-1.44,2.28 L-1.07,0.65 L-2.33,-0.46 L-0.66,-0.61 Z" fill="#303030" transform="translate(413.86,363.77)"/>
<path d="M0.00,-2.15 L0.66,-0.61 L2.33,-0.46 L1.07,0.65 L1.44,2.28 L0.00,1.42 L-1.44,2.28 L-1.07,0.65 L-2.33,-0.46 L-0.66,-0.61 Z" fill="#303030" transform="translate(429.02,363.77)"/><path d="M0.00,-2.15 L0.66,-0.61 L2.33,-0.46 L1.07,0.65 L1.44,2.28 L0.00,1.42 L-1.44,2.28 L-1.07,0.65 L-2.33,-0.46 L-0.66,-0.61 Z" fill="#303030" transform="translate(434.52,363.77)"/>
<path d="M0.00,-2.15 L0.66,-0.61 L2.33,-0.46 L1.07,0.65 L1.44,2.28 L0.00,1.42 L-1.44,2.28 L-1.07,0.65 L-2.33,-0.46 L-0.66,-0.61 Z" fill="#303030" transform="translate(204.41,384.42)"/>
<path d="M0.00,-2.15 L0.66,-0.61 L2.33,-0.46 L1.07,0.65 L1.44,2.28 L0.00,1.42 L-1.44,2.28 L-1.07,0.65 L-2.33,-0.46 L-0.66,-0.61 Z" fill="#303030" transform="translate(367.01,384.42)"/><path d="M0.00,-2.15 L0.66,-0.61 L2.33,-0.46 L1.07,0.65 L1.44,2.28 L0.00,1.42 L-1.44,2.28 L-1.07,0.65 L-2.33,-0.46 L-0.66,-0.61 Z" fill="#303030" transform="translate(372.51,384.42)"/>
<path d="M0.00,-2.15 L0.66,-0.61 L2.33,-0.46 L1.07,0.65 L1.44,2.28 L0.00,1.42 L-1.44,2.28 L-1.07,0.65 L-2.33,-0.46 L-0.66,-0.61 Z" fill="#303030" transform="translate(387.69,384.42)"/><path d="M0.00,-2.15 L0.66,-0.61 L2.33,-0.46 L1.07,0.65 L1.44,2.28 L0.00,1.42 L-1.44,2.28 L-1.07,0.65 L-2.33,-0.46 L-0.66,-0.61 Z" fill="#303030" transform="translate(393.19,384.42)"/>
<path d="M0.00,-2.15 L0.66,-0.61 L2.33,-0.46 L1.07,0.65 L1.44,2.28 L0.00,1.42 L-1.44,2.28 L-1.07,0.65 L-2.33,-0.46 L-0.66,-0.61 Z" fill="#303030" transform="translate(408.36,384.42)"/><path d="M0.00,-2.15 L0.66,-0.61 L2.33,-0.46 L1.07,0.65 L1.44,2.28 L0.00,1.42 L-1.44,2.28 L-1.07,0.65 L-2.33,-0.46 L-0.66,-0.61 Z" fill="#303030" transform="translate(413.86,384.42)"/>
<path d="M0.00,-2.15 L0.66,-0.61 L2.33,-0.46 L1.07,0.65 L1.44,2.28 L0.00,1.42 L-1.44,2.28 L-1.07,0.65 L-2.33,-0.46 L-0.66,-0.61 Z" fill="#303030" transform="translate(429.02,384.42)"/><path d="M0.00,-2.15 L0.66,-0.61 L2.33,-0.46 L1.07,0.65 L1.44,2.28 L0.00,1.42 L-1.44,2.28 L-1.07,0.65 L-2.33,-0.46 L-0.66,-0.61 Z" fill="#303030" transform="translate(434.52,384.42)"/>
<path d="M0.00,-2.15 L0.66,-0.61 L2.33,-0.46 L1.07,0.65 L1.44,2.28 L0.00,1.42 L-1.44,2.28 L-1.07,0.65 L-2.33,-0.46 L-0.66,-0.61 Z" fill="#303030" transform="translate(449.70,384.42)"/><path d="M0.00,-2.15 L0.66,-0.61 L2.33,-0.46 L1.07,0.65 L1.44,2.28 L0.00,1.42 L-1.44,2.28 L-1.07,0.65 L-2.33,-0.46 L-0.66,-0.61 Z" fill="#303030" transform="translate(455.20,384.42)"/>
<path d="M0.00,-2.15 L0.66,-0.61 L2.33,-0.46 L1.07,0.65 L1.44,2.28 L0.00,1.42 L-1.44,2.28 L-1.07,0.65 L-2.33,-0.46 L-0.66,-0.61 Z" fill="#303030" transform="translate(225.08,405.07)"/>
<path d="M0.00,-2.15 L0.66,-0.61 L2.33,-0.46 L1.07,0.65 L1.44,2.28 L0.00,1.42 L-1.44,2.28 L-1.07,0.65 L-2.33,-0.46 L-0.66,-0.61 Z" fill="#303030" transform="translate(287.09,405.07)"/>
<path d="M0.00,-2.15 L0.66,-0.61 L2.33,-0.46 L1.07,0.65 L1.44,2.28 L0.00,1.42 L-1.44,2.28 L-1.07,0.65 L-2.33,-0.46 L-0.66,-0.61 Z" fill="#303030" transform="translate(307.75,405.07)"/>
<path d="M0.00,-2.15 L0.66,-0.61 L2.33,-0.46 L1.07,0.65 L1.44,2.28 L0.00,1.42 L-1.44,2.28 L-1.07,0.65 L-2.33,-0.46 L-0.66,-0.61 Z" fill="#303030" transform="translate(204.41,425.72)"/>
<path d="M0.00,-2.15 L0.66,-0.61 L2.33,-0.46 L1.07,0.65 L1.44,2.28 L0.00,1.42 L-1.44,2.28 L-1.07,0.65 L-2.33,-0.46 L-0.66,-0.61 Z" fill="#303030" transform="translate(491.04,425.72)"/><path d="M0.00,-2.15 L0.66,-0.61 L2.33,-0.46 L1.07,0.65 L1.44,2.28 L0.00,1.42 L-1.44,2.28 L-1.07,0.65 L-2.33,-0.46 L-0.66,-0.61 Z" fill="#303030" transform="translate(496.54,425.72)"/>
<path d="M0.00,-2.15 L0.66,-0.61 L2.33,-0.46 L1.07,0.65 L1.44,2.28 L0.00,1.42 L-1.44,2.28 L-1.07,0.65 L-2.33,-0.46 L-0.66,-0.61 Z" fill="#303030" transform="translate(204.41,446.38)"/>
<path d="M0.00,-2.15 L0.66,-0.61 L2.33,-0.46 L1.07,0.65 L1.44,2.28 L0.00,1.42 L-1.44,2.28 L-1.07,0.65 L-2.33,-0.46 L-0.66,-0.61 Z" fill="#303030" transform="translate(493.79,446.38)"/>
<path d="M0.00,-2.15 L0.66,-0.61 L2.33,-0.46 L1.07,0.65 L1.44,2.28 L0.00,1.42 L-1.44,2.28 L-1.07,0.65 L-2.33,-0.46 L-0.66,-0.61 Z" fill="#303030" transform="translate(183.74,467.02)"/>
<path d="M0.00,-2.15 L0.66,-0.61 L2.33,-0.46 L1.07,0.65 L1.44,2.28 L0.00,1.42 L-1.44,2.28 L-1.07,0.65 L-2.33,-0.46 L-0.66,-0.61 Z" fill="#303030" transform="translate(245.75,467.02)"/>
<path d="M0.00,-2.15 L0.66,-0.61 L2.33,-0.46 L1.07,0.65 L1.44,2.28 L0.00,1.42 L-1.44,2.28 L-1.07,0.65 L-2.33,-0.46 L-0.66,-0.61 Z" fill="#303030" transform="translate(307.75,467.02)"/>
<path d="M0.00,-2.15 L0.66,-0.61 L2.33,-0.46 L1.07,0.65 L1.44,2.28 L0.00,1.42 L-1.44,2.28 L-1.07,0.65 L-2.33,-0.46 L-0.66,-0.61 Z" fill="#303030" transform="translate(390.44,467.02)"/>
<path d="M0.00,-2.15 L0.66,-0.61 L2.33,-0.46 L1.07,0.65 L1.44,2.28 L0.00,1.42 L-1.44,2.28 L-1.07,0.65 L-2.33,-0.46 L-0.66,-0.61 Z" fill="#303030" transform="translate(535.12,467.02)"/>
<path d="M0.00,-2.15 L0.66,-0.61 L2.33,-0.46 L1.07,0.65 L1.44,2.28 L0.00,1.42 L-1.44,2.28 L-1.07,0.65 L-2.33,-0.46 L-0.66,-0.61 Z" fill="#303030" transform="translate(201.66,467.02)"/><path d="M0.00,-2.15 L0.66,-0.61 L2.33,-0.46 L1.07,0.65 L1.44,2.28 L0.00,1.42 L-1.44,2.28 L-1.07,0.65 L-2.33,-0.46 L-0.66,-0.61 Z" fill="#303030" transform="translate(207.16,467.02)"/>
<path d="M0.00,-2.15 L0.66,-0.61 L2.33,-0.46 L1.07,0.65 L1.44,2.28 L0.00,1.42 L-1.44,2.28 L-1.07,0.65 L-2.33,-0.46 L-0.66,-0.61 Z" fill="#303030" transform="translate(222.33,467.02)"/><path d="M0.00,-2.15 L0.66,-0.61 L2.33,-0.46 L1.07,0.65 L1.44,2.28 L0.00,1.42 L-1.44,2.28 L-1.07,0.65 L-2.33,-0.46 L-0.66,-0.61 Z" fill="#303030" transform="translate(227.83,467.02)"/>
<path d="M0.00,-2.15 L0.66,-0.61 L2.33,-0.46 L1.07,0.65 L1.44,2.28 L0.00,1.42 L-1.44,2.28 L-1.07,0.65 L-2.33,-0.46 L-0.66,-0.61 Z" fill="#303030" transform="translate(367.01,467.02)"/><path d="M0.00,-2.15 L0.66,-0.61 L2.33,-0.46 L1.07,0.65 L1.44,2.28 L0.00,1.42 L-1.44,2.28 L-1.07,0.65 L-2.33,-0.46 L-0.66,-0.61 Z" fill="#303030" transform="translate(372.51,467.02)"/>
<path d="M0.00,-2.15 L0.66,-0.61 L2.33,-0.46 L1.07,0.65 L1.44,2.28 L0.00,1.42 L-1.44,2.28 L-1.07,0.65 L-2.33,-0.46 L-0.66,-0.61 Z" fill="#303030" transform="translate(429.02,467.02)"/><path d="M0.00,-2.15 L0.66,-0.61 L2.33,-0.46 L1.07,0.65 L1.44,2.28 L0.00,1.42 L-1.44,2.28 L-1.07,0.65 L-2.33,-0.46 L-0.66,-0.61 Z" fill="#303030" transform="translate(434.52,467.02)"/>
<path d="M0.00,-2.15 L0.66,-0.61 L2.33,-0.46 L1.07,0.65 L1.44,2.28 L0.00,1.42 L-1.44,2.28 L-1.07,0.65 L-2.33,-0.46 L-0.66,-0.61 Z" fill="#303030" transform="translate(449.70,467.02)"/><path d="M0.00,-2.15 L0.66,-0.61 L2.33,-0.46 L1.07,0.65 L1.44,2.28 L0.00,1.42 L-1.44,2.28 L-1.07,0.65 L-2.33,-0.46 L-0.66,-0.61 Z" fill="#303030" transform="translate(455.20,467.02)"/>
<path d="M0.00,-2.15 L0.66,-0.61 L2.33,-0.46 L1.07,0.65 L1.44,2.28 L0.00,1.42 L-1.44,2.28 L-1.07,0.65 L-2.33,-0.46 L-0.66,-0.61 Z" fill="#303030" transform="translate(470.37,467.02)"/><path d="M0.00,-2.15 L0.66,-0.61 L2.33,-0.46 L1.07,0.65 L1.44,2.28 L0.00,1.42 L-1.44,2.28 L-1.07,0.65 L-2.33,-0.46 L-0.66,-0.61 Z" fill="#303030" transform="translate(475.87,467.02)"/>
<path d="M0.00,-2.15 L0.66,-0.61 L2.33,-0.46 L1.07,0.65 L1.44,2.28 L0.00,1.42 L-1.44,2.28 L-1.07,0.65 L-2.33,-0.46 L-0.66,-0.61 Z" fill="#303030" transform="translate(201.66,487.67)"/><path d="M0.00,-2.15 L0.66,-0.61 L2.33,-0.46 L1.07,0.65 L1.44,2.28 L0.00,1.42 L-1.44,2.28 L-1.07,0.65 L-2.33,-0.46 L-0.66,-0.61 Z" fill="#303030" transform="translate(207.16,487.67)"/>
<path d="M0.00,-2.15 L0.66,-0.61 L2.33,-0.46 L1.07,0.65 L1.44,2.28 L0.00,1.42 L-1.44,2.28 L-1.07,0.65 L-2.33,-0.46 L-0.66,-0.61 Z" fill="#303030" transform="translate(553.05,487.67)"/><path d="M0.00,-2.15 L0.66,-0.61 L2.33,-0.46 L1.07,0.65 L1.44,2.28 L0.00,1.42 L-1.44,2.28 L-1.07,0.65 L-2.33,-0.46 L-0.66,-0.61 Z" fill="#303030" transform="translate(558.55,487.67)"/>
<path d="M0.00,-2.15 L0.66,-0.61 L2.33,-0.46 L1.07,0.65 L1.44,2.28 L0.00,1.42 L-1.44,2.28 L-1.07,0.65 L-2.33,-0.46 L-0.66,-0.61 Z" fill="#303030" transform="translate(307.75,487.67)"/>
<path d="M0.00,-2.15 L0.66,-0.61 L2.33,-0.46 L1.07,0.65 L1.44,2.28 L0.00,1.42 L-1.44,2.28 L-1.07,0.65 L-2.33,-0.46 L-0.66,-0.61 Z" fill="#303030" transform="translate(535.12,487.67)"/>
<path d="M0.00,-2.15 L0.66,-0.61 L2.33,-0.46 L1.07,0.65 L1.44,2.28 L0.00,1.42 L-1.44,2.28 L-1.07,0.65 L-2.33,-0.46 L-0.66,-0.61 Z" fill="#303030" transform="translate(204.41,508.32)"/>
<text x="0" y="0" font-size="13" fill="#111" transform="translate(68.80,98.00) scale(0.9701,1)">PolyFT clustering</text>
<text x="0" y="0" font-size="13" fill="#111" transform="translate(70.20,118.90) scale(0.9774,1)">PolyFT switching</text>
<text x="0" y="0" font-size="13" fill="#111" transform="translate(96.80,142.70) scale(0.9774,1)">AUT-fluency</text>
<text x="0" y="0" font-size="13" fill="#111" transform="translate(71.90,162.70) scale(0.9791,1)">AUT-uniqueness</text>
<text x="0" y="0" font-size="13" fill="#111" transform="translate(98.90,183.30) scale(0.9720,1)">AUT-ratings</text>
<text x="0" y="0" font-size="13" fill="#111" transform="translate(60.90,204.30) scale(0.9792,1)">AUT-commonness</text>
<text x="0" y="0" font-size="13" fill="#111" transform="translate(124.00,226.60) scale(0.8565,1)">CAT-CR</text>
<text x="0" y="0" font-size="13" fill="#111" transform="translate(108.20,246.70) scale(0.9446,1)">CAT-index</text>
<text x="0" y="0" font-size="13" fill="#111" transform="translate(99.90,266.90) scale(0.9402,1)">CAT-eureka</text>
<text x="0" y="0" font-size="13" fill="#111" transform="translate(114.70,286.70) scale(0.9727,1)">WUN Eff</text>
<text x="0" y="0" font-size="13" fill="#111" transform="translate(116.40,306.70) scale(0.9319,1)">WUN CC</text>
<text x="0" y="0" font-size="13" fill="#111" transform="translate(121.70,327.00) scale(0.9943,1)">WUN Q</text>
<text x="0" y="0" font-size="13" fill="#111" transform="translate(119.60,347.50) scale(0.9517,1)">UUN Eff</text>
<text x="0" y="0" font-size="13" fill="#111" transform="translate(118.70,370.60) scale(0.9118,1)">UUN CC</text>
<text x="0" y="0" font-size="13" fill="#111" transform="translate(124.80,391.00) scale(0.9742,1)">UUN Q</text>
<text x="0" y="0" font-size="13" fill="#111" transform="translate(88.00,410.20) scale(1.0229,1)">forward-span</text>
<text x="0" y="0" font-size="13" fill="#111" transform="translate(77.80,431.10) scale(0.9902,1)">backward-span</text>
<text x="0" y="0" font-size="13" fill="#111" transform="translate(93.50,452.50) scale(1.0098,1)">TMT-shifting</text>
<text x="0" y="0" font-size="13" fill="#111" transform="translate(69.00,473.00) scale(1.0077,1)">category-fluency</text>
<text x="0" y="0" font-size="13" fill="#111" transform="translate(87.40,494.20) scale(1.0386,1)">letter-fluency</text>
<text x="0" y="0" font-size="13" fill="#111" transform="translate(51.20,516.30) scale(1.0235,1)">Stroop-interference</text>
<text x="-0.00" y="0" font-size="13" fill="#111" transform="translate(196.20,73.40) rotate(-45.00) scale(1.0,1)">PolyFT clustering</text>
<text x="-0.00" y="0" font-size="13" fill="#111" transform="translate(216.76,93.92) rotate(-45.00) scale(1.0,1)">PolyFT switching</text>
<text x="-0.00" y="0" font-size="13" fill="#111" transform="translate(237.32,114.44) rotate(-45.00) scale(1.0,1)">AUT-fluency</text>
<text x="-0.00" y="0" font-size="13" fill="#111" transform="translate(257.88,134.96) rotate(-45.00) scale(1.0,1)">AUT-uniqueness</text>
<text x="-0.00" y="0" font-size="13" fill="#111" transform="translate(278.44,155.48) rotate(-45.00) scale(1.0,1)">AUT-ratings</text>
<text x="-0.00" y="0" font-size="13" fill="#111" transform="translate(299.00,176.00) rotate(-45.00) scale(1.0,1)">AUT-commonness</text>
<text x="-0.00" y="0" font-size="13" fill="#111" transform="translate(319.56,196.52) rotate(-45.00) scale(1.0,1)">CAT-CR</text>
<text x="-0.00" y="0" font-size="13" fill="#111" transform="translate(340.12,217.04) rotate(-45.00) scale(1.0,1)">CAT-index</text>
<text x="-0.00" y="0" font-size="13" fill="#111" transform="translate(360.68,237.56) rotate(-45.00) scale(1.0,1)">CAT-eureka</text>
<text x="-0.00" y="0" font-size="13" fill="#111" transform="translate(381.24,258.08) rotate(-45.00) scale(1.0,1)">WUN Eff</text>
<text x="-0.00" y="0" font-size="13" fill="#111" transform="translate(401.80,278.60) rotate(-45.00) scale(1.0,1)">WUN CC</text>
<text x="-0.00" y="0" font-size="13" fill="#111" transform="translate(422.51,299.12) rotate(-45.00) scale(1.0,1)">WUN Q</text>
<text x="-0.00" y="0" font-size="13" fill="#111" transform="translate(443.22,319.64) rotate(-45.00) scale(1.0,1)">UUN Eff</text>
<text x="-0.00" y="0" font-size="13" fill="#111" transform="translate(463.93,340.16) rotate(-45.30) scale(1.0,1)">UUN CC</text>
<text x="-0.00" y="0" font-size="13" fill="#111" transform="translate(484.64,360.68) rotate(-45.60) scale(1.0,1)">UUN Q</text>
<text x="-0.00" y="0" font-size="13" fill="#111" transform="translate(505.35,381.20) rotate(-45.90) scale(1.0,1)">forward-span</text>
<text x="-0.00" y="0" font-size="13" fill="#111" transform="translate(526.06,401.72) rotate(-46.20) scale(1.0,1)">backward-span</text>
<text x="-0.00" y="0" font-size="13" fill="#111" transform="translate(546.77,422.24) rotate(-46.50) scale(1.0,1)">TMT-shifting</text>
<text x="-0.00" y="0" font-size="13" fill="#111" transform="translate(567.48,442.76) rotate(-46.80) scale(1.0,1)">category-fluency</text>
<text x="-0.00" y="0" font-size="13" fill="#111" transform="translate(588.19,463.28) rotate(-47.10) scale(1.0,1)">letter-fluency</text>
<text x="-0.00" y="0" font-size="13" fill="#111" transform="translate(608.90,483.80) rotate(-47.40) scale(1.0,1)">Stroop-interference</text>
<path d="M44.9,135.8 H41.7 Q39.9,135.8 39.9,137.6 V263.8 Q39.9,265.6 41.7,265.6 H44.9 M39.9,200.3 H34.7" fill="none" stroke="#8c8c8c" stroke-width="1.4"/>
<path d="M43.3,270.6 H40.9 Q39.1,270.6 39.1,272.4 V388.6 Q39.1,390.4 40.9,390.4 H43.3 M39.1,330.2 H34.5" fill="none" stroke="#8c8c8c" stroke-width="1.4"/>
<path d="M44.9,399.7 H40.8 Q39.0,399.7 39.0,401.5 V513.6 Q39.0,515.4 40.8,515.4 H44.9 M39.0,457.7 H33.0" fill="none" stroke="#8c8c8c" stroke-width="1.4"/>
<text x="0" y="0" font-size="12" font-weight="bold" fill="#111" text-anchor="middle" transform="translate(11.0,201.5) rotate(-90)">Creativity scores</text>
<text x="0" y="0" font-size="12" font-weight="bold" fill="#111" text-anchor="middle" transform="translate(11.0,326.3) rotate(-90)">SemNet metrics</text>
<text x="0" y="0" font-size="12" font-weight="bold" fill="#111" text-anchor="middle" transform="translate(11.0,463.4) rotate(-90)">Executive tests</text>
<rect x="174" y="526.7" width="433.7" height="16" fill="url(#cb)" stroke="#1a1a1a" stroke-width="1.4"/>
<line x1="174.00" x2="174.00" y1="542.7" y2="546.6" stroke="#1a1a1a" stroke-width="1.3"/>
<text x="174.00" y="568.7" font-size="14.8" fill="#111" text-anchor="middle">-1</text>
<line x1="217.37" x2="217.37" y1="542.7" y2="546.6" stroke="#1a1a1a" stroke-width="1.3"/>
<text x="217.37" y="568.7" font-size="14.8" fill="#111" text-anchor="middle">-0.8</text>
<line x1="260.74" x2="260.74" y1="542.7" y2="546.6" stroke="#1a1a1a" stroke-width="1.3"/>
<text x="260.74" y="568.7" font-size="14.8" fill="#111" text-anchor="middle">-0.6</text>
<line x1="304.11" x2="304.11" y1="542.7" y2="546.6" stroke="#1a1a1a" stroke-width="1.3"/>
<text x="304.11" y="568.7" font-size="14.8" fill="#111" text-anchor="middle">-0.4</text>
<line x1="347.48" x2="347.48" y1="542.7" y2="546.6" stroke="#1a1a1a" stroke-width="1.3"/>
<text x="347.48" y="568.7" font-size="14.8" fill="#111" text-anchor="middle">-0.2</text>
<line x1="390.85" x2="390.85" y1="542.7" y2="546.6" stroke="#1a1a1a" stroke-width="1.3"/>
<text x="390.85" y="568.7" font-size="14.8" fill="#111" text-anchor="middle">0</text>
<line x1="434.22" x2="434.22" y1="542.7" y2="546.6" stroke="#1a1a1a" stroke-width="1.3"/>
<text x="434.22" y="568.7" font-size="14.8" fill="#111" text-anchor="middle">0.2</text>
<line x1="477.59" x2="477.59" y1="542.7" y2="546.6" stroke="#1a1a1a" stroke-width="1.3"/>
<text x="477.59" y="568.7" font-size="14.8" fill="#111" text-anchor="middle">0.4</text>
<line x1="520.96" x2="520.96" y1="542.7" y2="546.6" stroke="#1a1a1a" stroke-width="1.3"/>
<text x="520.96" y="568.7" font-size="14.8" fill="#111" text-anchor="middle">0.6</text>
<line x1="564.33" x2="564.33" y1="542.7" y2="546.6" stroke="#1a1a1a" stroke-width="1.3"/>
<text x="564.33" y="568.7" font-size="14.8" fill="#111" text-anchor="middle">0.8</text>
<line x1="607.70" x2="607.70" y1="542.7" y2="546.6" stroke="#1a1a1a" stroke-width="1.3"/>
<text x="607.70" y="568.7" font-size="14.8" fill="#111" text-anchor="middle">1</text>
<text x="386.5" y="592" font-size="12.5" font-weight="bold" fill="#111" text-anchor="middle">Spearman correlation coefficient</text>
</svg></body></html>
